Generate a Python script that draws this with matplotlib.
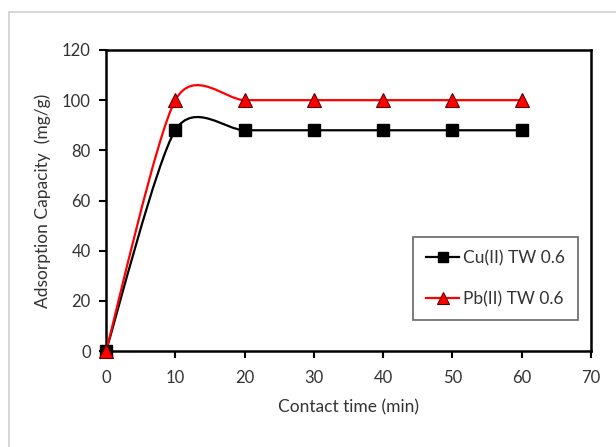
import matplotlib
matplotlib.use("Agg")
import matplotlib.pyplot as plt
from matplotlib.path import Path
from matplotlib.patches import PathPatch, Rectangle
from matplotlib.lines import Line2D
import numpy as np

plt.rcParams["font.family"] = ["Lato", "DejaVu Sans"]

# data
time_min = [0, 10, 20, 30, 40, 50, 60]
cu_tw06 = [0, 88, 88, 88, 88, 88, 88]
pb_tw06 = [0, 100, 100, 100, 100, 100, 100]


def smooth_path(x, y, k=0.135):
    # Excel-style smoothed line: cubic Bezier through the data points
    pts = np.column_stack([x, y]).astype(float)
    n = len(pts)
    verts = [pts[0]]
    codes = [Path.MOVETO]
    for i in range(n - 1):
        p0 = pts[max(i - 1, 0)]
        p1 = pts[i]
        p2 = pts[i + 1]
        p3 = pts[min(i + 2, n - 1)]
        verts += [p1 + k * (p2 - p0), p2 - k * (p3 - p1), p2]
        codes += [Path.CURVE4] * 3
    return Path(verts, codes)


fig = plt.figure(figsize=(6.16, 4.47), dpi=100)
fig.patches.append(Rectangle((9 / 616, -0.1), 1.2, 1 - 12 / 447 + 0.1,
                             transform=fig.transFigure, fill=False,
                             edgecolor="#d0d0d0", linewidth=1.2))
ax = fig.add_axes([106 / 616, 1 - 351 / 447, (591 - 106) / 616, (351 - 50) / 447])

ax.add_patch(PathPatch(smooth_path(time_min, cu_tw06), fill=False,
                       edgecolor="black", linewidth=1.6, zorder=3))
ax.add_patch(PathPatch(smooth_path(time_min, pb_tw06), fill=False,
                       edgecolor="#ff0000", linewidth=1.6, zorder=3))
ax.plot(time_min, cu_tw06, ls="none", marker="s", ms=8.5, color="black",
        zorder=4, clip_on=False)
ax.plot(time_min, pb_tw06, ls="none", marker="^", ms=9.5, markerfacecolor="#ff0000",
        markeredgecolor="#600000", markeredgewidth=0.8, zorder=5, clip_on=False)

ax.set_xlim(0, 70)
ax.set_ylim(0, 120)
ax.set_xticks(range(0, 71, 10))
ax.set_yticks(range(0, 121, 20))
for s in ax.spines.values():
    s.set_linewidth(1.8)
    s.set_color("black")
ax.tick_params(direction="out", length=5, width=1.5, labelsize=12, colors="black",
               labelcolor="#333333", pad=6)
ax.tick_params(axis="x", pad=9)
ax.set_xlabel("Contact time (min)", fontsize=12.5, color="#333333", labelpad=9)
ax.set_ylabel("Adsorption Capacity  (mg/g)", fontsize=12.5, color="#333333", labelpad=8)

handles = [
    Line2D([], [], color="black", lw=1.6, marker="s", ms=7),
    Line2D([], [], color="#ff0000", lw=1.6, marker="^", ms=8,
           markerfacecolor="#ff0000", markeredgecolor="#600000", markeredgewidth=0.8),
]
leg = ax.legend(handles, ["Cu(II) TW 0.6", "Pb(II) TW 0.6"], loc="upper left",
                bbox_to_anchor=((413 - 106) / 485, (351 - 237) / 301),
                fontsize=12.5, frameon=True, fancybox=False, handlelength=1.9,
                handletextpad=0.25, labelspacing=1.45, borderpad=0.75, borderaxespad=0)
leg.get_frame().set_edgecolor("#404040")
leg.get_frame().set_linewidth(1.2)
for t in leg.get_texts():
    t.set_color("#333333")

fig.savefig("out.png", dpi=100)
